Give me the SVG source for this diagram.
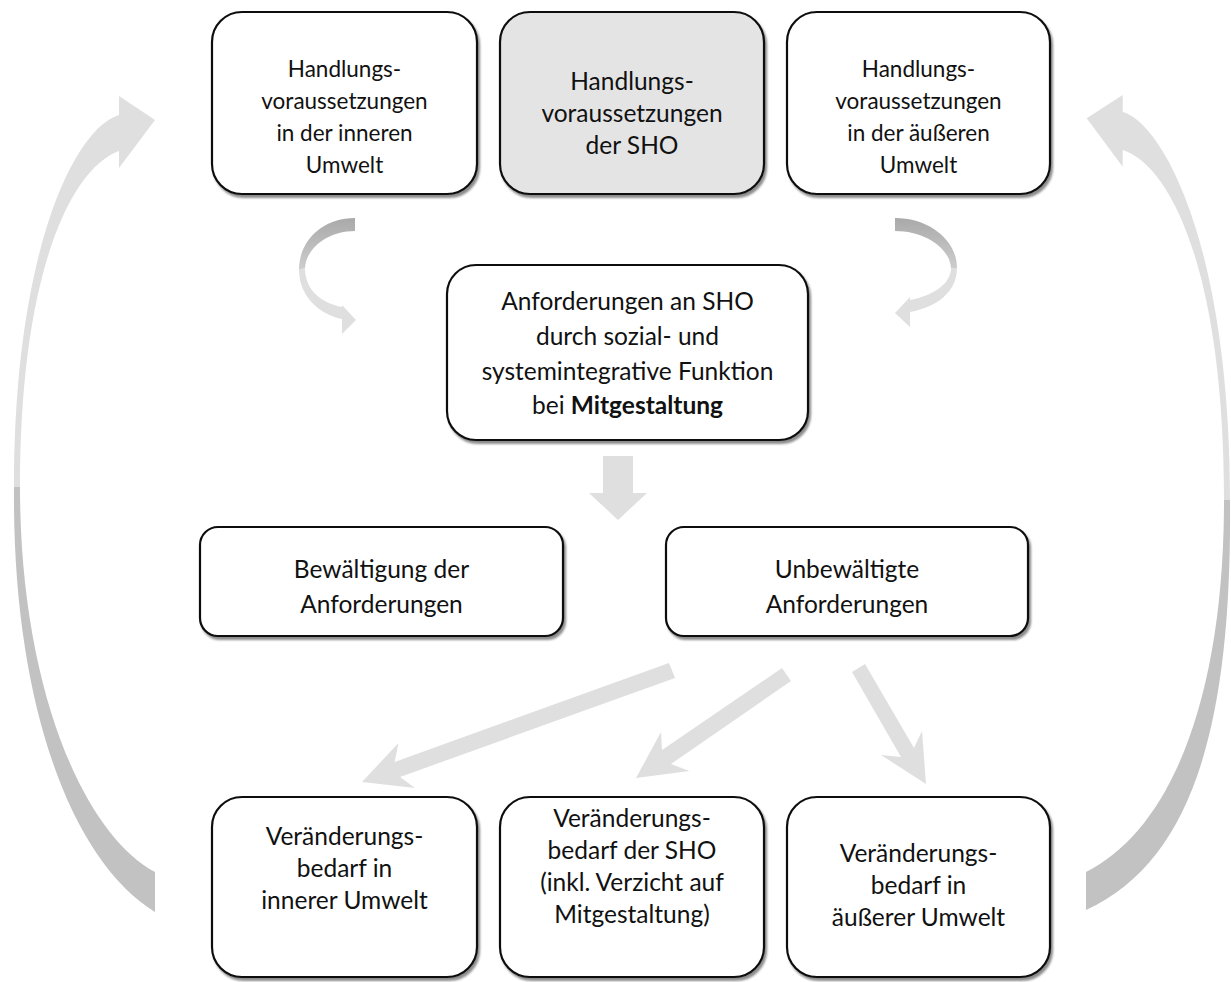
<svg xmlns="http://www.w3.org/2000/svg" width="1231" height="982" viewBox="0 0 1231 982">
<defs>
<filter id="sh" x="-5%" y="-5%" width="115%" height="120%">
<feDropShadow dx="2" dy="3" stdDeviation="1.2" flood-color="#000" flood-opacity="0.45"/>
</filter>
<linearGradient id="gdS" x1="0" y1="0" x2="0" y2="1">
<stop offset="0" stop-color="#a9a9a9"/><stop offset="1" stop-color="#cdcdcd"/>
</linearGradient>
</defs>
<style>
.box{fill:#fff;stroke:#111;stroke-width:2.2;filter:url(#sh)}
.gray{fill:#e4e4e4}
text{font-family:Lato,"Liberation Sans",sans-serif;font-size:24.5px;fill:#111;text-anchor:middle}
.sm{font-size:22.5px}
.b{font-weight:bold}
.lt{fill:#dfdfdf}
.dk{fill:#c2c2c2}
.ds{fill:url(#gdS)}
</style>
<g id="connectors">
<path id="arcLeft-back" class="dk" d="M14,487 C12,700 70,860 155,912 L155,872 C85,835 20,690 20,487 Z"/>
<path id="arcLeft-front" class="lt" d="M119,115 C75,128 14,250 14,487 L20,487 C20,270 72,168 119,151 L119,168 L155,120 L119,96 Z"/>
<path id="arcRight-back" class="dk" d="M1230,500 C1232,720 1195,860 1086,910 L1086,872 C1170,830 1224,700 1224,500 Z"/>
<path id="arcRight-front" class="lt" d="M1122.7,111.7 C1165,125 1230,250 1230,500 L1224,500 C1224,270 1170,165 1122.7,150 L1122.7,166.7 L1086.7,118.3 L1122.7,95 Z"/>
<path id="smallLeft-back" class="ds" d="M355,218 C323,218 299,240 299,270 L305,268 C306,249 327,231 355,231 Z"/>
<path id="smallLeft-front" class="lt" d="M299,270 C299,295 318,314 342,319 L342,334 L356,320 L342,305 L342,307 C321,303 305,290 305,268 Z"/>
<path id="smallRight-back" class="ds" d="M895,218 C929,218 957,240 957,268 L951,268 C950,249 926,231 895,231 Z"/>
<path id="smallRight-front" class="lt" d="M957,268 C957,291 938,307 910,312 L910,327 L895,313 L910,297 L910,300 C931,296 951,285 951,268 Z"/>
<polygon id="down" class="lt" points="603,456 633,456 633,493 647,493 618,520 589,493 603,493"/>
<polygon id="diagA" class="lt" points="669,663 394.6,762 398.5,743 362,782 415,788 400,777 675,678"/>
<polygon id="diagB" class="lt" points="782,668 662,750 661,732 636,778 689.5,771 671,764 791,681"/>
<polygon id="diagC" class="lt" points="865,664 914,748 922,731 926,784 881,755 901,757 852,672"/>
</g>
<g id="n1"><rect class="box" x="212" y="12" width="265" height="182" rx="30"/>
<text class="sm" x="344.5" y="77">Handlungs-</text><text class="sm" x="344.5" y="109">voraussetzungen</text><text class="sm" x="344.5" y="141">in der inneren</text><text class="sm" x="344.5" y="173">Umwelt</text></g>
<g id="n2"><rect class="box gray" x="500" y="12" width="264" height="182" rx="30"/>
<text x="632" y="90">Handlungs-</text><text x="632" y="122">voraussetzungen</text><text x="632" y="154">der SHO</text></g>
<g id="n3"><rect class="box" x="787" y="12" width="263" height="182" rx="30"/>
<text class="sm" x="918.5" y="77">Handlungs-</text><text class="sm" x="918.5" y="109">voraussetzungen</text><text class="sm" x="918.5" y="141">in der äußeren</text><text class="sm" x="918.5" y="173">Umwelt</text></g>
<g id="n4"><rect class="box" x="447" y="265" width="361" height="175" rx="29"/>
<text x="627.5" y="310">Anforderungen an SHO</text><text x="627.5" y="345">durch sozial- und</text><text x="627.5" y="380">systemintegrative Funktion</text><text x="627.5" y="414">bei <tspan class="b">Mitgestaltung</tspan></text></g>
<g id="n5"><rect class="box" x="200" y="527" width="363" height="109" rx="18"/>
<text x="381.5" y="578">Bewältigung der</text><text x="381.5" y="613">Anforderungen</text></g>
<g id="n6"><rect class="box" x="666" y="527" width="362" height="109" rx="18"/>
<text x="847" y="578">Unbewältigte</text><text x="847" y="613">Anforderungen</text></g>
<g id="n7"><rect class="box" x="212" y="797" width="265" height="180" rx="30"/>
<text x="344.5" y="845">Veränderungs-</text><text x="344.5" y="877">bedarf in</text><text x="344.5" y="909">innerer Umwelt</text></g>
<g id="n8"><rect class="box" x="500" y="797" width="264" height="180" rx="30"/>
<text x="632" y="827">Veränderungs-</text><text x="632" y="859">bedarf der SHO</text><text x="632" y="891">(inkl. Verzicht auf</text><text x="632" y="923">Mitgestaltung)</text></g>
<g id="n9"><rect class="box" x="787" y="797" width="263" height="180" rx="30"/>
<text x="918.5" y="862">Veränderungs-</text><text x="918.5" y="894">bedarf in</text><text x="918.5" y="926">äußerer Umwelt</text></g>
</svg>
